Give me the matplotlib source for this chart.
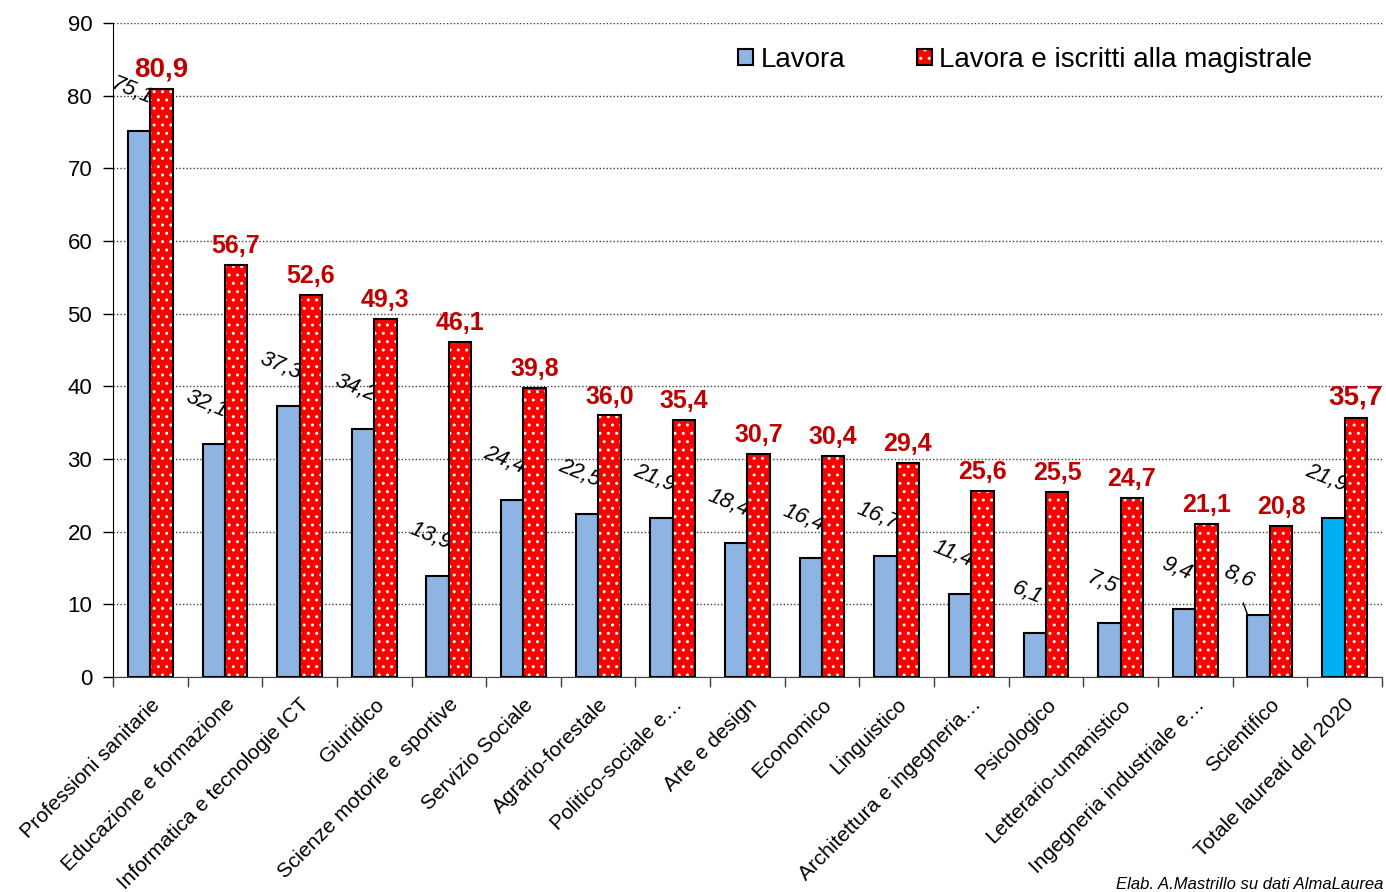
import matplotlib.pyplot as plt
import numpy as np
from matplotlib.patches import Patch

categorie = ['Professioni sanitarie', 'Educazione e formazione', 'Informatica e tecnologie ICT',
             'Giuridico', 'Scienze motorie e sportive', 'Servizio Sociale', 'Agrario-forestale',
             'Politico-sociale e…', 'Arte e design', 'Economico', 'Linguistico',
             'Architettura e ingegneria…', 'Psicologico', 'Letterario-umanistico',
             'Ingegneria industriale e…', 'Scientifico', 'Totale laureati del 2020']
lavora = [75.1, 32.1, 37.3, 34.2, 13.9, 24.4, 22.5, 21.9, 18.4, 16.4, 16.7, 11.4, 6.1, 7.5, 9.4, 8.6, 21.9]
lavora_mag = [80.9, 56.7, 52.6, 49.3, 46.1, 39.8, 36.0, 35.4, 30.7, 30.4, 29.4, 25.6, 25.5, 24.7, 21.1, 20.8, 35.7]

plt.rcParams['font.family'] = ['Liberation Sans', 'DejaVu Sans']
plt.rcParams['hatch.linewidth'] = 1.0

fig = plt.figure(figsize=(13.86, 8.92), dpi=100)
ax = fig.add_axes([0.0815, 0.241, 0.9155, 0.733])

x = np.arange(len(categorie))
w = 0.30
blu = ['#8DB4E2'] * (len(x) - 1) + ['#00B0F0']

ax.bar(x - w / 2, lavora, w, color=blu, edgecolor='black', linewidth=1.5, zorder=3)
ax.bar(x + w / 2, lavora_mag, w, color='#FF0000', edgecolor='white', hatch='..', linewidth=0, zorder=5)
ax.bar(x + w / 2, lavora_mag, w, fill=False, edgecolor='black', linewidth=1.5, zorder=6)

# etichette "Lavora" (restano sotto le barre rosse)
for i, v in enumerate(lavora):
    txt = f'{v:.1f}'.replace('.', ',')
    if i == 15:
        ax.annotate(txt, xy=(i - w, v), xytext=(i - w / 2 - 0.26, v + 5.2),
                    ha='center', va='center', rotation=-22, style='italic', fontsize=16, zorder=4,
                    arrowprops=dict(arrowstyle='-', color='black', lw=1, relpos=(0.5, 0),
                                    shrinkA=6, shrinkB=0))
    else:
        ax.text(i - w / 2 - 0.1, v + 5.5, txt, ha='center', va='center', rotation=-22,
                style='italic', fontsize=16, zorder=4)

for i, v in enumerate(lavora_mag):
    txt = f'{v:.1f}'.replace('.', ',')
    fs = 20 if i in (0, 16) else 18
    ax.annotate(txt, xy=(i + w / 2, v), xytext=(0, 5), textcoords='offset points',
                ha='center', va='bottom', fontsize=fs, fontweight='bold', color='#C00000', zorder=7)

ax.set_ylim(0, 90)
ax.set_xlim(-0.5, len(x) - 0.5)
ax.set_yticks(range(0, 91, 10))
ax.tick_params(axis='y', labelsize=16, length=7, width=1, color='black', pad=8)
ax.set_xticks(x)
ax.set_xticklabels(categorie, rotation=45, ha='right', rotation_mode='anchor', fontsize=15)
ax.tick_params(axis='x', length=0, pad=13)
ax.set_xticks(np.arange(-0.5, len(x), 1), minor=True)
ax.tick_params(axis='x', which='minor', length=7, width=1, color='#404040')

ax.grid(axis='y', linestyle=(0, (1, 1.5)), color='#404040', linewidth=1, zorder=0)
ax.spines['top'].set_visible(False)
ax.spines['right'].set_visible(False)
ax.spines['left'].set_color('black')
ax.spines['bottom'].set_color('#404040')

h1 = Patch(facecolor='#8DB4E2', edgecolor='black', linewidth=1.5)
h2a = Patch(facecolor='#FF0000', edgecolor='white', hatch='..', linewidth=0)
h2b = Patch(fill=False, edgecolor='black', linewidth=1.5)
fig.legend([h1, (h2a, h2b)], ['Lavora', 'Lavora e iscritti alla magistrale'],
           loc='center right', bbox_to_anchor=(0.965, 0.933), ncol=2, frameon=False,
           fontsize=20, handlelength=0.55, handleheight=0.55, handletextpad=0.25,
           columnspacing=2.6)

fig.text(0.998, 0.003, 'Elab. A.Mastrillo su dati AlmaLaurea', style='italic', fontsize=12,
         ha='right')

fig.savefig('out.png', dpi=100)
